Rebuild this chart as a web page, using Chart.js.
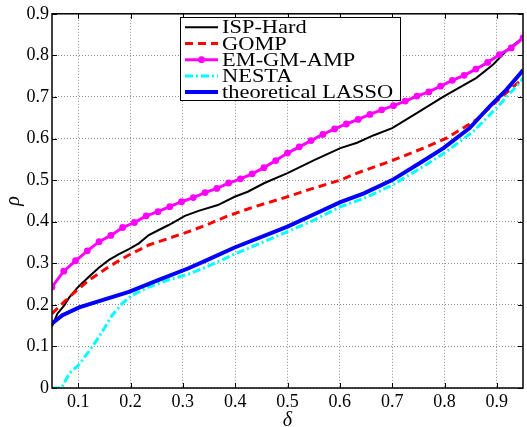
<!DOCTYPE html>
<html>
<head>
<meta charset="utf-8">
<script src="https://cdn.jsdelivr.net/npm/chart.js@4.4.1/dist/chart.umd.min.js"></script>
<style>
  html, body { margin: 0; padding: 0; background: #fff; }
  canvas { display: block; }
</style>
</head>
<body>
<canvas id="chart" width="527" height="427"></canvas>
<script>
// ---- data (delta -> rho) ----
const xTicks = [0.1, 0.2, 0.3, 0.4, 0.5, 0.6, 0.7, 0.8, 0.9];
const yTicks = [0, 0.1, 0.2, 0.3, 0.4, 0.5, 0.6, 0.7, 0.8, 0.9];

const ispX = [0.05, 0.06, 0.073, 0.083, 0.10, 0.121, 0.14, 0.159, 0.178, 0.197, 0.216, 0.235, 0.254, 0.273, 0.304, 0.33, 0.367, 0.399, 0.424, 0.456, 0.50, 0.551, 0.601, 0.633, 0.665, 0.70, 0.747, 0.798, 0.861, 0.893, 0.924, 0.95];
const ispY = [0.148, 0.178, 0.198, 0.218, 0.243, 0.268, 0.290, 0.308, 0.322, 0.334, 0.348, 0.368, 0.380, 0.392, 0.414, 0.426, 0.440, 0.460, 0.472, 0.493, 0.517, 0.548, 0.577, 0.590, 0.608, 0.625, 0.661, 0.701, 0.746, 0.778, 0.818, 0.842];

const gompX = [0.05, 0.083, 0.121, 0.159, 0.197, 0.235, 0.273, 0.311, 0.345, 0.386, 0.437, 0.50, 0.538, 0.601, 0.633, 0.696, 0.76, 0.804, 0.861, 0.899, 0.943, 0.95];
const gompY = [0.179, 0.219, 0.260, 0.292, 0.320, 0.344, 0.360, 0.376, 0.392, 0.414, 0.436, 0.460, 0.476, 0.500, 0.517, 0.545, 0.577, 0.601, 0.645, 0.689, 0.737, 0.745];

const ampX = [0.05, 0.0725, 0.095, 0.1175, 0.14, 0.1625, 0.185, 0.2075, 0.23, 0.2525, 0.275, 0.2975, 0.32, 0.3425, 0.365, 0.3875, 0.41, 0.4325, 0.455, 0.4775, 0.50, 0.5225, 0.545, 0.5675, 0.59, 0.6125, 0.635, 0.6575, 0.68, 0.7025, 0.725, 0.7475, 0.77, 0.7925, 0.815, 0.8375, 0.86, 0.8825, 0.905, 0.9275, 0.95];
const ampY = [0.243, 0.281, 0.306, 0.330, 0.352, 0.367, 0.386, 0.398, 0.414, 0.424, 0.436, 0.448, 0.458, 0.470, 0.480, 0.493, 0.503, 0.515, 0.530, 0.547, 0.565, 0.580, 0.595, 0.610, 0.623, 0.635, 0.646, 0.658, 0.669, 0.679, 0.690, 0.702, 0.712, 0.726, 0.740, 0.752, 0.767, 0.783, 0.802, 0.818, 0.842];

const nestaX = [0.05, 0.068, 0.083, 0.10, 0.127, 0.146, 0.165, 0.184, 0.203, 0.235, 0.273, 0.311, 0.347, 0.399, 0.50, 0.551, 0.601, 0.646, 0.70, 0.76, 0.804, 0.855, 0.899, 0.937, 0.95];
const nestaY = [0.0, 0.0, 0.035, 0.054, 0.099, 0.135, 0.175, 0.203, 0.223, 0.243, 0.260, 0.274, 0.292, 0.322, 0.376, 0.404, 0.436, 0.456, 0.488, 0.533, 0.569, 0.617, 0.673, 0.725, 0.745];

const lassoX = [0.05, 0.07, 0.102, 0.14, 0.197, 0.254, 0.311, 0.347, 0.399, 0.50, 0.551, 0.601, 0.646, 0.70, 0.753, 0.798, 0.848, 0.886, 0.918, 0.946, 0.95];
const lassoY = [0.155, 0.175, 0.194, 0.209, 0.231, 0.260, 0.288, 0.308, 0.338, 0.388, 0.418, 0.447, 0.468, 0.500, 0.541, 0.577, 0.625, 0.677, 0.717, 0.758, 0.765];

const seriesNames = ["ISP-Hard", "GOMP", "EM-GM-AMP", "NESTA", "theoretical LASSO"];

const pts = (xs, ys) => xs.map((x, i) => ({ x, y: ys[i] }));
const SERIF = "'Liberation Serif', 'DejaVu Serif', serif";

const styles = [
  { color: "#000000", width: 2, dash: [] },
  { color: "#ff0000", width: 3, dash: [8, 5] },
  { color: "#ff00ff", width: 3, dash: [], marker: true },
  { color: "#00ffff", width: 3, dash: [8, 3, 2, 3] },
  { color: "#0000ff", width: 4, dash: [] },
];

const seriesData = [pts(ispX, ispY), pts(gompX, gompY), pts(ampX, ampY), pts(nestaX, nestaY), pts(lassoX, lassoY)];

const datasets = seriesData.map((data, i) => ({
  label: seriesNames[i],
  data,
  borderColor: styles[i].color,
  backgroundColor: styles[i].color,
  borderWidth: styles[i].width,
  borderDash: styles[i].dash,
  pointRadius: styles[i].marker ? 3.4 : 0,
  pointBorderWidth: 0,
  pointBackgroundColor: styles[i].color,
  tension: 0,
  order: 5 - i, // later series on top, matlab style
}));

// white background + box, inward ticks, legend
const framePlugin = {
  id: "frame",
  beforeDraw(chart) {
    const c = chart.ctx;
    c.save();
    c.fillStyle = "#fff";
    c.fillRect(0, 0, chart.width, chart.height);
    c.restore();
  },
  afterDraw(chart) {
    const c = chart.ctx;
    const a = chart.chartArea;
    const sx = chart.scales.x, sy = chart.scales.y;
    c.save();
    c.strokeStyle = "#000";
    c.lineWidth = 1.5;
    c.strokeRect(a.left, a.top, a.right - a.left, a.bottom - a.top);
    c.lineWidth = 1;
    c.beginPath();
    xTicks.forEach((v) => {
      const px = Math.round(sx.getPixelForValue(v)) + 0.5;
      c.moveTo(px, a.bottom); c.lineTo(px, a.bottom - 5);
      c.moveTo(px, a.top); c.lineTo(px, a.top + 5);
    });
    yTicks.forEach((v) => {
      const py = Math.round(sy.getPixelForValue(v)) + 0.5;
      c.moveTo(a.left, py); c.lineTo(a.left + 5, py);
      c.moveTo(a.right, py); c.lineTo(a.right - 5, py);
    });
    c.stroke();

    // legend
    const bx = 180.5, by = 17.5, bw = 220, bh = 83;
    c.fillStyle = "#fff";
    c.fillRect(bx, by, bw, bh);
    c.strokeStyle = "#000";
    c.lineWidth = 1;
    c.strokeRect(bx, by, bw, bh);
    seriesNames.forEach((name, i) => {
      const st = styles[i];
      const ly = 27.3 + i * 16.2;
      c.save();
      c.strokeStyle = st.color;
      c.lineWidth = st.width;
      c.setLineDash(st.dash);
      c.beginPath();
      c.moveTo(185, ly); c.lineTo(218, ly);
      c.stroke();
      if (st.marker) {
        c.fillStyle = st.color;
        c.beginPath();
        c.arc(201.5, ly, 3.4, 0, Math.PI * 2);
        c.fill();
      }
      c.restore();
      c.save();
      c.fillStyle = "#000";
      c.font = "19px " + SERIF;
      c.textBaseline = "middle";
      c.translate(222, ly + 1.2);
      c.scale(1.18, 1);
      c.fillText(name, 0, 0);
      c.restore();
    });
    c.restore();
  },
};

new Chart(document.getElementById("chart"), {
  type: "line",
  data: { datasets },
  options: {
    responsive: false,
    animation: false,
    layout: { padding: { top: 13, right: 1, left: 0, bottom: 0 } },
    plugins: { legend: { display: false }, tooltip: { enabled: false } },
    scales: {
      x: {
        type: "linear",
        min: 0.05,
        max: 0.95,
        afterBuildTicks: (axis) => { axis.ticks = xTicks.map((v) => ({ value: v })); },
        afterFit: (axis) => { axis.height = 39; },
        ticks: {
          color: "#000",
          font: { family: SERIF, size: 18 },
          padding: 3,
          maxRotation: 0,
          callback: (v) => String(v),
        },
        grid: { color: "#8c8c8c", lineWidth: 1, drawTicks: false },
        border: { display: false, dash: [1, 2] },
        title: {
          display: true,
          text: "δ",
          color: "#000",
          font: { family: SERIF, size: 20, style: "italic" },
          padding: { top: 0, bottom: -6 },
        },
      },
      y: {
        min: 0,
        max: 0.9,
        afterBuildTicks: (axis) => { axis.ticks = yTicks.map((v) => ({ value: v })); },
        afterFit: (axis) => { axis.width = 52; },
        ticks: {
          color: "#000",
          font: { family: SERIF, size: 18 },
          padding: 3,
          callback: (v) => String(v),
        },
        grid: { color: "#8c8c8c", lineWidth: 1, drawTicks: false },
        border: { display: false, dash: [1, 2] },
        title: {
          display: true,
          text: "ρ",
          color: "#000",
          font: { family: SERIF, size: 20, style: "italic" },
          padding: { top: 2, bottom: 0 },
        },
      },
    },
  },
  plugins: [framePlugin],
});
</script>
</body>
</html>
